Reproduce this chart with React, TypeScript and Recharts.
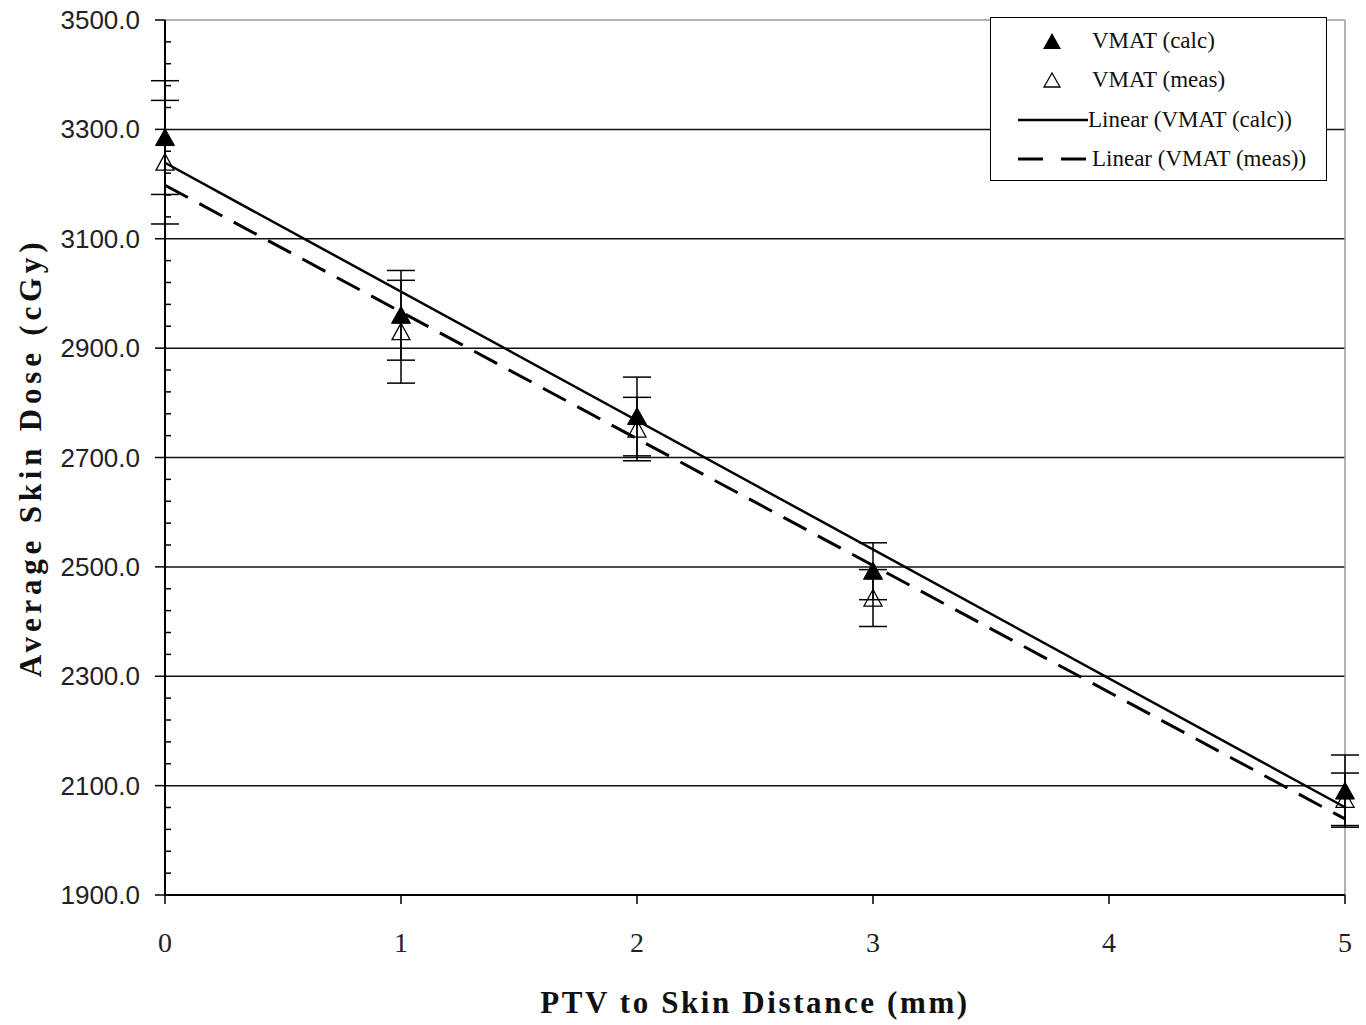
import React from 'react';
import {
  ComposedChart,
  Scatter,
  ErrorBar,
  XAxis,
  YAxis,
  ReferenceLine,
  Legend,
  Label,
} from 'recharts';

// distances (mm)
const DISTANCES = [0, 1, 2, 3, 5];
// VMAT calculated dose (cGy) and its error
const CALC_DOSE = [3285, 2960, 2775, 2492, 2090];
const CALC_ERR = [104, 82, 72, 52, 66];
// VMAT measured dose (cGy) and its error
const MEAS_DOSE = [3240, 2930, 2752, 2443, 2075];
const MEAS_ERR = [113, 94, 58, 52, 48];

const X_TICKS = [0, 1, 2, 3, 4, 5];
const Y_MAJOR_TICKS = [1900, 2100, 2300, 2500, 2700, 2900, 3100, 3300, 3500];
const Y_MINOR_STEP = 40;

const TREND_X = [0, 5];

const SERIF = '"Liberation Serif", "Times New Roman", serif';
const SANS = '"Liberation Sans", Arial, sans-serif';

// least squares fit, like Excel's linear trendline
const fitLine = (xs: number[], ys: number[]) => {
  const n = xs.length;
  const mx = xs.reduce((s, v) => s + v, 0) / n;
  const my = ys.reduce((s, v) => s + v, 0) / n;
  let sxy = 0;
  let sxx = 0;
  xs.forEach((x, i) => {
    sxy += (x - mx) * (ys[i] - my);
    sxx += (x - mx) * (x - mx);
  });
  const slope = sxy / sxx;
  const intercept = my - slope * mx;
  return TREND_X.map((x) => ({ x, y: intercept + slope * x }));
};

const calcData = DISTANCES.map((x, i) => ({ x, y: CALC_DOSE[i], err: CALC_ERR[i] }));
const measData = DISTANCES.map((x, i) => ({ x, y: MEAS_DOSE[i], err: MEAS_ERR[i] }));
const calcTrend = fitLine(DISTANCES, CALC_DOSE);
const measTrend = fitLine(DISTANCES, MEAS_DOSE);

const yTicks: number[] = [];
Y_MAJOR_TICKS.forEach((v, i) => {
  yTicks.push(v);
  if (i < Y_MAJOR_TICKS.length - 1) {
    for (let m = v + Y_MINOR_STEP; m < Y_MAJOR_TICKS[i + 1]; m += Y_MINOR_STEP) yTicks.push(m);
  }
});

const TICK_SIZE = 10;
const TICK_MARGIN = 15;

const YTick = (props: any) => {
  const { x, y, payload } = props;
  const axisX = x + TICK_SIZE + TICK_MARGIN;
  const isMajor = Y_MAJOR_TICKS.includes(payload.value);
  if (!isMajor) {
    return <line x1={axisX} x2={axisX + 6} y1={y} y2={y} stroke="#000" strokeWidth={1.5} />;
  }
  return (
    <g>
      <line x1={axisX - TICK_SIZE} x2={axisX} y1={y} y2={y} stroke="#000" strokeWidth={1.5} />
      <text
        x={x}
        y={y}
        textAnchor="end"
        dominantBaseline="central"
        fontFamily={SANS}
        fontSize={26}
        fill="#222"
      >
        {payload.value.toFixed(1)}
      </text>
    </g>
  );
};

const FilledTriangle = (props: any) => {
  const { cx, cy } = props;
  return (
    <polygon
      points={`${cx},${cy - 9} ${cx + 9.5},${cy + 8} ${cx - 9.5},${cy + 8}`}
      fill="#000"
      stroke="#000"
      strokeWidth={1}
    />
  );
};

const OpenTriangle = (props: any) => {
  const { cx, cy } = props;
  return (
    <polygon
      points={`${cx},${cy - 8.5} ${cx + 9},${cy + 8} ${cx - 9},${cy + 8}`}
      fill="none"
      stroke="#000"
      strokeWidth={1.3}
    />
  );
};

const NoDot = () => <g />;

const renderLegend = () => {
  const rowStyle: React.CSSProperties = {
    display: 'flex',
    alignItems: 'center',
    height: 39.5,
  };
  const textStyle: React.CSSProperties = {
    fontFamily: SERIF,
    fontSize: 23,
    color: '#111',
    whiteSpace: 'nowrap',
  };
  return (
    <div
      style={{
        border: '1.5px solid #000',
        background: '#fff',
        width: 337,
        height: 164,
        boxSizing: 'border-box',
        padding: '3px 0 0 0',
      }}
    >
      <div style={rowStyle}>
        <svg width={101} height={30}>
          <polygon points="61,7 70,23 52,23" fill="#000" />
        </svg>
        <span style={textStyle}>VMAT (calc)</span>
      </div>
      <div style={rowStyle}>
        <svg width={101} height={30}>
          <polygon points="61,8 69,22 53,22" fill="none" stroke="#000" strokeWidth={1.3} />
        </svg>
        <span style={textStyle}>VMAT (meas)</span>
      </div>
      <div style={rowStyle}>
        <svg width={97} height={30}>
          <line x1={27} x2={97} y1={15} y2={15} stroke="#000" strokeWidth={2.5} />
        </svg>
        <span style={textStyle}>Linear (VMAT (calc))</span>
      </div>
      <div style={rowStyle}>
        <svg width={101} height={30}>
          <line x1={27} x2={95} y1={15} y2={15} stroke="#000" strokeWidth={3} strokeDasharray="25 18" />
        </svg>
        <span style={textStyle}>Linear (VMAT (meas))</span>
      </div>
    </div>
  );
};

export default function App() {
  return (
    <div style={{ position: 'absolute', left: 0, top: 0, width: 1366, height: 1025, background: '#fff' }}>
      <ComposedChart width={1366} height={1025} margin={{ top: 20, right: 21, bottom: 0, left: 0 }}>
        {Y_MAJOR_TICKS.slice(1, -1).map((v) => (
          <ReferenceLine key={v} y={v} stroke="#111" strokeWidth={1.5} />
        ))}
        <ReferenceLine y={3500} stroke="#999" strokeWidth={1.5} />
        <ReferenceLine x={5} stroke="#999" strokeWidth={1.5} />
        <XAxis
          type="number"
          dataKey="x"
          domain={[0, 5]}
          ticks={X_TICKS}
          interval={0}
          height={130}
          axisLine={{ stroke: '#000', strokeWidth: 2 }}
          tickLine={{ stroke: '#000', strokeWidth: 1.5 }}
          tickSize={9}
          tickMargin={28}
          tick={{ fontFamily: SERIF, fontSize: 28, fill: '#222' }}
        >
          <Label
            value="PTV to Skin Distance (mm)"
            position="insideBottom"
            offset={12}
            style={{ fontFamily: SERIF, fontSize: 31, fontWeight: 'bold', fill: '#111', letterSpacing: 2.6 }}
          />
        </XAxis>
        <YAxis
          type="number"
          dataKey="y"
          domain={[1900, 3500]}
          ticks={yTicks}
          interval={0}
          width={165}
          axisLine={{ stroke: '#000', strokeWidth: 2 }}
          tickLine={false}
          tickSize={TICK_SIZE}
          tickMargin={TICK_MARGIN}
          tick={<YTick />}
        >
          <Label
            value="Average Skin Dose (cGy)"
            angle={-90}
            position="insideLeft"
            offset={30}
            style={{
              textAnchor: 'middle',
              fontFamily: SERIF,
              fontSize: 31,
              fontWeight: 'bold',
              fill: '#111',
              letterSpacing: 4.8,
            }}
          />
        </YAxis>
        <Scatter
          name="Linear (VMAT (calc))"
          data={calcTrend}
          shape={<NoDot />}
          line={{ stroke: '#000', strokeWidth: 2.5 }}
          isAnimationActive={false}
        />
        <Scatter
          name="Linear (VMAT (meas))"
          data={measTrend}
          shape={<NoDot />}
          line={{ stroke: '#000', strokeWidth: 3, strokeDasharray: '26 13' }}
          isAnimationActive={false}
        />
        <Scatter name="VMAT (calc)" data={calcData} shape={<FilledTriangle />} isAnimationActive={false}>
          <ErrorBar dataKey="err" direction="y" width={14} stroke="#000" strokeWidth={1.5} />
        </Scatter>
        <Scatter name="VMAT (meas)" data={measData} shape={<OpenTriangle />} isAnimationActive={false}>
          <ErrorBar dataKey="err" direction="y" width={14} stroke="#000" strokeWidth={1.5} />
        </Scatter>
        <Legend
          layout="horizontal"
          verticalAlign="middle"
          align="center"
          wrapperStyle={{ top: 17, left: 990, width: 337 }}
          content={renderLegend}
        />
      </ComposedChart>
    </div>
  );
}
